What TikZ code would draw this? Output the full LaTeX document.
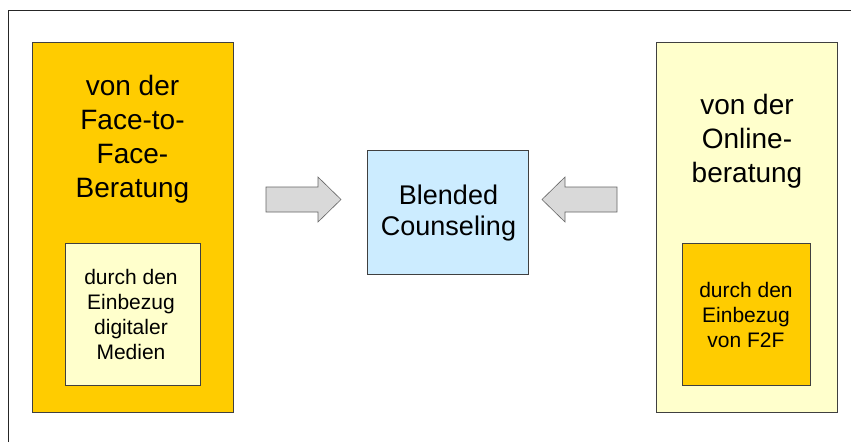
\documentclass[tikz,border=0pt]{standalone}
\usepackage{fontspec}
\setmainfont{Liberation Sans}
\definecolor{orangebox}{HTML}{FFCC00}
\definecolor{paleyellow}{HTML}{FFFFCC}
\definecolor{paleblue}{HTML}{CCECFF}
\definecolor{arrowgray}{HTML}{D9D9D9}
\definecolor{edgegray}{HTML}{404040}
\begin{document}
\begin{tikzpicture}[x=1pt,y=-1pt,
  box/.style={draw=edgegray,line width=0.8pt},
  bigtext/.style={align=center,font=\fontsize{28}{34}\selectfont,inner sep=0pt},
  smalltext/.style={align=center,font=\fontsize{21}{25}\selectfont,inner sep=0pt},
  midtext/.style={align=center,font=\fontsize{27}{31}\selectfont,inner sep=0pt},
  blockarrow/.style={draw=edgegray!80,fill=arrowgray,line width=0.6pt}]
\useasboundingbox (0,0) rectangle (851,442);
\fill[white] (0,0) rectangle (851,442);
% frame
\draw[line width=0.9pt,black!85] (8,442) -- (8,10) -- (851,10);
% left column
\filldraw[box,fill=orangebox] (32,42) rectangle (233,412);
\node[bigtext] (ftf) at (132.5,139) {von der\\Face-to-\\Face-\\Beratung};
\filldraw[box,fill=paleyellow] (65,243) rectangle (200,385);
\node[smalltext] (dig) at (131,314) {durch den\\Einbezug\\digitaler\\ Medien};
% right column
\filldraw[box,fill=paleyellow] (656,42) rectangle (837,412);
\node[bigtext] (onl) at (747,141) {von der\\Online-\\beratung};
\filldraw[box,fill=orangebox] (682,243) rectangle (810,385);
\node[smalltext] (f2f) at (746,315) {durch den\\Einbezug\\von F2F};
% center
\node[box,fill=paleblue,minimum width=161pt,minimum height=124pt,inner sep=0pt] (bc) at (447.5,212) {};
\node[midtext] (bct) at (448.5,213) {Blended\\Counseling};
% block arrows
\filldraw[blockarrow] (266,187) -- (318,187) -- (318,177) -- (341,199.5) -- (318,222) -- (318,212) -- (266,212) -- cycle;
\filldraw[blockarrow] (617,187) -- (565,187) -- (565,177) -- (542,199.5) -- (565,222) -- (565,212) -- (617,212) -- cycle;
\end{tikzpicture}
\end{document}
